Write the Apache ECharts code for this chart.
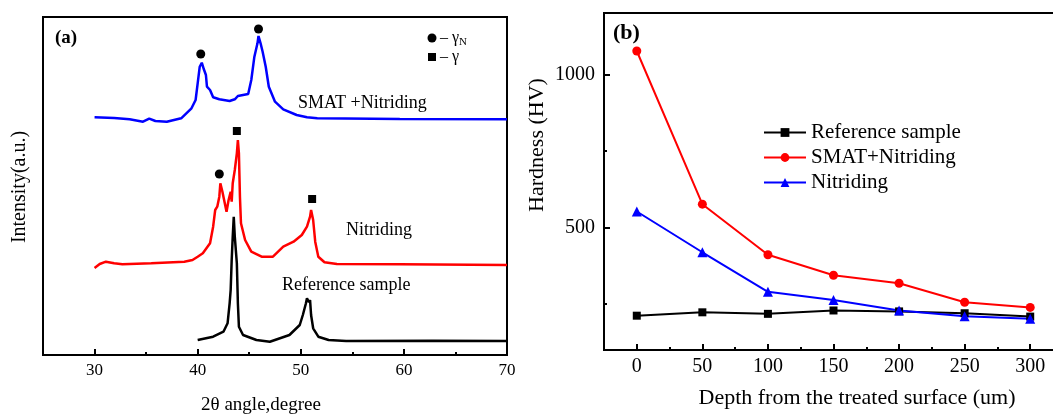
<!DOCTYPE html>
<html>
<head>
<meta charset="utf-8">
<script src="https://cdn.jsdelivr.net/npm/echarts@6/dist/echarts.min.js"></script>
<style>
  html, body { margin: 0; padding: 0; background: #fff; }
  #chart { width: 1053px; height: 414px; }
</style>
</head>
<body>
<div id="chart"></div>
<script>
const FONT = '"Liberation Serif", "Times New Roman", serif';

// (a) XRD patterns: [2θ (degree), intensity (a.u.)]
const smatNitridingXrd = [
  [30.0, 237.7], [31.9, 237], [33.4, 235.7], [34.7, 233.3], [35.3, 236.3], [35.9, 234],
  [37.0, 233.3], [38.4, 236.7], [39.4, 246.7], [39.8, 255], [40.0, 271.7], [40.2, 288.3],
  [40.4, 292.3], [40.6, 285.7], [40.8, 280], [40.9, 268.3], [41.2, 265], [41.5, 257.7],
  [42.1, 255.7], [43.1, 254], [43.6, 255.7], [43.9, 259], [44.9, 261], [45.2, 275],
  [45.5, 298.3], [45.8, 311.7], [45.9, 319], [46.1, 311.7], [46.3, 303.3], [46.6, 288.3],
  [46.9, 268.3], [47.5, 253.3], [48.3, 245.7], [49.6, 240], [50.6, 237.7], [51.6, 236.7],
  [59.6, 236], [70.0, 235.7]
];
const nitridingXrd = [
  [30.0, 87], [30.5, 91], [31.1, 93.3], [31.9, 91.7], [32.7, 90.7], [35.5, 91.7],
  [38.7, 93.3], [39.5, 95], [40.0, 98.3], [40.5, 101.7], [41.2, 111.7], [41.5, 128.3],
  [41.7, 145], [41.9, 148.3], [42.1, 158.3], [42.2, 171.7], [42.4, 163.3], [42.6, 153.3],
  [42.8, 143.3], [43.0, 155], [43.2, 163.3], [43.3, 153.3], [43.4, 171.7], [43.5, 173.3],
  [43.6, 185], [43.8, 201.7], [43.9, 215], [44.0, 201.7], [44.1, 158.3], [44.2, 131.7],
  [44.6, 115], [45.2, 103.3], [46.2, 98.3], [47.3, 98.3], [48.3, 108.3], [49.3, 113.3],
  [50.1, 120], [50.6, 128.3], [50.9, 138.3], [51.0, 145], [51.2, 135], [51.4, 113.3],
  [51.7, 98.3], [52.3, 92.7], [53.5, 91], [59.6, 90.7], [70.0, 90]
];
const referenceXrd = [
  [40.0, 15], [41.5, 18.3], [42.5, 23.3], [42.9, 31.7], [43.1, 51.7], [43.2, 65],
  [43.3, 95], [43.4, 118.3], [43.5, 138.3], [43.6, 118.3], [43.8, 91.7], [43.9, 51.7],
  [44.0, 28.3], [44.4, 20], [45.7, 15], [47.0, 13.3], [48.9, 20], [49.9, 30],
  [50.2, 40], [50.5, 51.7], [50.6, 56.7], [50.8, 52.7], [50.9, 55], [51.0, 40],
  [51.2, 26.7], [51.7, 18.3], [52.7, 15], [54.4, 14], [62.8, 14.3], [70.0, 14]
];
// phase markers placed above the peaks
const gammaNPeaks = [[40.3, 301], [45.9, 326], [42.1, 181]];
const gammaPeaks = [[43.8, 224], [51.1, 156]];
const angleTicks = [30, 40, 50, 60, 70];
const angleMinorTicks = [35, 45, 55, 65];

// (b) hardness profiles
const depths = [0, 50, 100, 150, 200, 250, 300];
const hardnessReference = [212, 223, 218, 229, 226, 220, 209];
const hardnessSmatNitriding = [1076, 576, 411, 344, 318, 256, 239];
const hardnessNitriding = [552, 419, 290, 263, 229, 210, 202];
const depthTicks = [0, 50, 100, 150, 200, 250, 300];
const depthMinorTicks = [25, 75, 125, 175, 225, 275];
const hardnessTicks = [500, 1000];
const hardnessMinorTicks = [250, 750];

const pair = (xs, ys) => xs.map((x, i) => [x, ys[i]]);

const lineBlack = { color: '#000', width: 2 };

function valueAxis(extra) {
  return Object.assign({
    type: 'value',
    axisLine: { show: true, onZero: false, lineStyle: lineBlack },
    splitLine: { show: false },
    axisTick: { show: false },
    axisLabel: { show: false }
  }, extra);
}

const plainNumber = v => String(v);

const chart = echarts.init(document.getElementById('chart'), null, { renderer: 'canvas' });

chart.setOption({
  animation: false,
  backgroundColor: '#fff',
  grid: [
    { left: 43, top: 17, width: 464, height: 338, show: true, borderColor: '#000', borderWidth: 2, containLabel: false, outerBoundsMode: 'none' },
    { left: 604, top: 13, width: 459, height: 337, show: true, borderColor: '#000', borderWidth: 2, containLabel: false, outerBoundsMode: 'none' }
  ],
  xAxis: [
    valueAxis({
      gridIndex: 0, min: 25, max: 70, position: 'bottom',
      axisTick: { show: true, inside: true, length: 6, lineStyle: lineBlack, customValues: angleTicks },
      axisLabel: { show: true, customValues: angleTicks, formatter: plainNumber, color: '#000', fontSize: 17, fontFamily: FONT, margin: 7 }
    }),
    valueAxis({
      gridIndex: 0, min: 25, max: 70, position: 'bottom',
      axisLine: { show: false, onZero: false },
      axisTick: { show: true, inside: true, length: 3, lineStyle: lineBlack, customValues: angleMinorTicks }
    }),
    valueAxis({
      gridIndex: 1, min: -25, max: 325, position: 'bottom',
      axisTick: { show: true, inside: true, length: 6, lineStyle: lineBlack, customValues: depthTicks },
      axisLabel: { show: true, customValues: depthTicks, formatter: plainNumber, color: '#000', fontSize: 20, fontFamily: FONT, margin: 7 }
    }),
    valueAxis({
      gridIndex: 1, min: -25, max: 325, position: 'bottom',
      axisLine: { show: false, onZero: false },
      axisTick: { show: true, inside: true, length: 3, lineStyle: lineBlack, customValues: depthMinorTicks }
    })
  ],
  yAxis: [
    valueAxis({ gridIndex: 0, min: 0, max: 338, position: 'left' }),
    valueAxis({ gridIndex: 0, min: 0, max: 338, position: 'left', axisLine: { show: false, onZero: false } }),
    valueAxis({
      gridIndex: 1, min: 100, max: 1200, position: 'left',
      axisTick: { show: true, inside: true, length: 6, lineStyle: lineBlack, customValues: hardnessTicks },
      axisLabel: { show: true, customValues: hardnessTicks, formatter: plainNumber, color: '#000', fontSize: 20, fontFamily: FONT, margin: 9 }
    }),
    valueAxis({
      gridIndex: 1, min: 100, max: 1200, position: 'left',
      axisLine: { show: false, onZero: false },
      axisTick: { show: true, inside: true, length: 3, lineStyle: lineBlack, customValues: hardnessMinorTicks }
    })
  ],
  legend: {
    data: ['Reference sample', 'SMAT+Nitriding', 'Nitriding'],
    orient: 'vertical',
    left: 758, top: 117,
    itemWidth: 42, itemHeight: 11, itemGap: 4,
    textStyle: { color: '#000', fontSize: 21, fontFamily: FONT }
  },
  series: [
    {
      name: 'SMAT +Nitriding (XRD)', type: 'line', xAxisIndex: 0, yAxisIndex: 0,
      data: smatNitridingXrd, showSymbol: false, silent: true,
      lineStyle: { color: '#0000ff', width: 2.5 }, itemStyle: { color: '#0000ff' }
    },
    {
      name: 'Nitriding (XRD)', type: 'line', xAxisIndex: 0, yAxisIndex: 0,
      data: nitridingXrd, showSymbol: false, silent: true,
      lineStyle: { color: '#ff0000', width: 2.5 }, itemStyle: { color: '#ff0000' }
    },
    {
      name: 'Reference sample (XRD)', type: 'line', xAxisIndex: 0, yAxisIndex: 0,
      data: referenceXrd, showSymbol: false, silent: true,
      lineStyle: { color: '#000', width: 2.5 }, itemStyle: { color: '#000' }
    },
    {
      name: 'γN', type: 'scatter', xAxisIndex: 0, yAxisIndex: 0, silent: true,
      data: gammaNPeaks, symbol: 'circle', symbolSize: 9, itemStyle: { color: '#000', opacity: 1 }
    },
    {
      name: 'γ', type: 'scatter', xAxisIndex: 0, yAxisIndex: 0, silent: true,
      data: gammaPeaks, symbol: 'rect', symbolSize: 8, itemStyle: { color: '#000', opacity: 1 }
    },
    {
      name: 'Reference sample', type: 'line', xAxisIndex: 2, yAxisIndex: 2,
      data: pair(depths, hardnessReference), symbol: 'rect', symbolSize: 8,
      lineStyle: { color: '#000', width: 2 }, itemStyle: { color: '#000' }
    },
    {
      name: 'SMAT+Nitriding', type: 'line', xAxisIndex: 2, yAxisIndex: 2,
      data: pair(depths, hardnessSmatNitriding), symbol: 'circle', symbolSize: 9,
      lineStyle: { color: '#ff0000', width: 2 }, itemStyle: { color: '#ff0000' }
    },
    {
      name: 'Nitriding', type: 'line', xAxisIndex: 2, yAxisIndex: 2,
      data: pair(depths, hardnessNitriding), symbol: 'triangle', symbolSize: 10,
      lineStyle: { color: '#0000ff', width: 2 }, itemStyle: { color: '#0000ff' }
    }
  ],
  graphic: [
    // panel tags
    { type: 'text', x: 55, y: 38, style: { text: '(a)', fontSize: 19, fontWeight: 'bold', fontFamily: FONT, fill: '#000', verticalAlign: 'middle', textVerticalAlign: 'middle' } },
    { type: 'text', x: 613, y: 33, style: { text: '(b)', fontSize: 22, fontWeight: 'bold', fontFamily: FONT, fill: '#000', verticalAlign: 'middle', textVerticalAlign: 'middle' } },
    // pattern names
    { type: 'text', x: 298, y: 103, style: { text: 'SMAT +Nitriding', fontSize: 18, fontFamily: FONT, fill: '#000', verticalAlign: 'middle', textVerticalAlign: 'middle' } },
    { type: 'text', x: 346, y: 230, style: { text: 'Nitriding', fontSize: 18, fontFamily: FONT, fill: '#000', verticalAlign: 'middle', textVerticalAlign: 'middle' } },
    { type: 'text', x: 282, y: 285, style: { text: 'Reference sample', fontSize: 18, fontFamily: FONT, fill: '#000', verticalAlign: 'middle', textVerticalAlign: 'middle' } },
    // phase key
    { type: 'circle', shape: { cx: 432, cy: 38, r: 4.5 }, style: { fill: '#000' } },
    { type: 'rect', shape: { x: 428, y: 53, width: 8, height: 8 }, style: { fill: '#000' } },
    { type: 'text', x: 440, y: 38, style: {
        text: '– γ{s|N}', fontSize: 16, fontFamily: FONT, fill: '#000', verticalAlign: 'middle', textVerticalAlign: 'middle',
        rich: { s: { fontSize: 11, fontFamily: FONT, fill: '#000', padding: [9, 0, 0, 0] } } } },
    { type: 'text', x: 440, y: 57, style: { text: '– γ', fontSize: 16, fontFamily: FONT, fill: '#000', verticalAlign: 'middle', textVerticalAlign: 'middle' } },
    // axis titles
    { type: 'text', x: 261, y: 405, style: { text: '2θ angle,degree', fontSize: 19, fontFamily: FONT, fill: '#000', align: 'center', textAlign: 'center', verticalAlign: 'middle', textVerticalAlign: 'middle' } },
    { type: 'text', x: 20, y: 187, rotation: Math.PI / 2, style: { text: 'Intensity(a.u.)', fontSize: 20, fontFamily: FONT, fill: '#000', align: 'center', textAlign: 'center', verticalAlign: 'middle', textVerticalAlign: 'middle' } },
    { type: 'text', x: 537, y: 145, rotation: Math.PI / 2, style: { text: 'Hardness (HV)', fontSize: 22, fontFamily: FONT, fill: '#000', align: 'center', textAlign: 'center', verticalAlign: 'middle', textVerticalAlign: 'middle' } },
    { type: 'text', x: 857, y: 398, style: { text: 'Depth from the treated surface (um)', fontSize: 22, fontFamily: FONT, fill: '#000', align: 'center', textAlign: 'center', verticalAlign: 'middle', textVerticalAlign: 'middle' } }
  ]
});
</script>
</body>
</html>
